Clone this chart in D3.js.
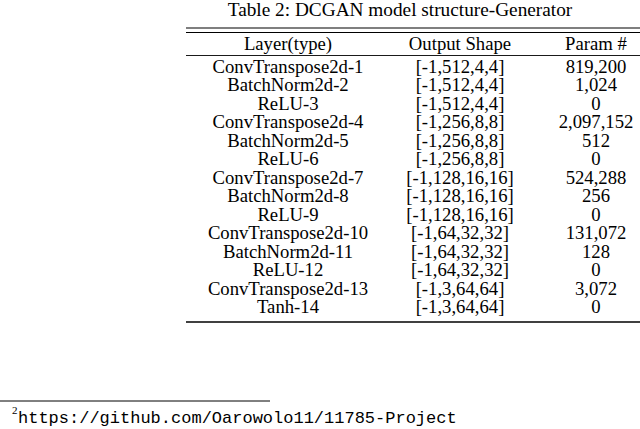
<!DOCTYPE html>
<html><head><meta charset="utf-8">
<script src="https://cdn.jsdelivr.net/npm/d3@7"></script>
<style>body{margin:0;background:#fff}</style>
</head><body>
<script>
const headers = ['Layer(type)', 'Output Shape', 'Param #']
const layers = ['ConvTranspose2d-1','BatchNorm2d-2','ReLU-3','ConvTranspose2d-4','BatchNorm2d-5','ReLU-6',
  'ConvTranspose2d-7','BatchNorm2d-8','ReLU-9','ConvTranspose2d-10','BatchNorm2d-11','ReLU-12',
  'ConvTranspose2d-13','Tanh-14']
const shapes = ['[-1,512,4,4]','[-1,512,4,4]','[-1,512,4,4]','[-1,256,8,8]','[-1,256,8,8]','[-1,256,8,8]',
  '[-1,128,16,16]','[-1,128,16,16]','[-1,128,16,16]','[-1,64,32,32]','[-1,64,32,32]','[-1,64,32,32]',
  '[-1,3,64,64]','[-1,3,64,64]']
const params = ['819,200','1,024','0','2,097,152','512','0','524,288','256','0','131,072','128','0','3,072','0']

const svg = d3.select('body').append('svg').attr('width', 640).attr('height', 429)
const serif = "'Liberation Serif', 'Times New Roman', serif"

svg.append('text').attr('x', 400).attr('y', 16).attr('text-anchor', 'middle')
  .attr('font-family', serif).attr('font-size', 19.3).text('Table 2: DCGAN model structure-Generator')

const colX = [288, 460, 596]
const y = d3.scaleLinear().domain([0, 13]).range([73, 313])

const line = (yy, w) => svg.append('line').attr('x1', 186).attr('x2', 640)
  .attr('y1', yy).attr('y2', yy).attr('stroke', '#000').attr('stroke-width', w)
line(28, 1.2); line(32.5, 1.2); line(55.5, 0.9); line(322, 1.4)

svg.selectAll('text.h').data(headers).join('text').attr('class', 'h')
  .attr('x', (d, i) => colX[i]).attr('y', 50).attr('text-anchor', 'middle')
  .attr('font-family', serif).attr('font-size', 18.7).text(d => d)

const cols = [layers, shapes, params]
cols.forEach((col, c) => {
  svg.selectAll('text.c' + c).data(col).join('text').attr('class', 'c' + c)
    .attr('x', colX[c]).attr('y', (d, i) => y(i)).attr('text-anchor', 'middle')
    .attr('font-family', serif).attr('font-size', 18.7).text(d => d)
})

svg.append('line').attr('x1', 0).attr('x2', 270).attr('y1', 401).attr('y2', 401)
  .attr('stroke', '#000').attr('stroke-width', 1)
svg.append('text').attr('x', 12).attr('y', 414).attr('font-family', serif).attr('font-size', 11).text('2')
svg.append('text').attr('x', 18).attr('y', 423).attr('font-family', "'Liberation Mono', 'DejaVu Sans Mono', monospace")
  .attr('font-size', 17).text('https://github.com/Oarowolo11/11785-Project')
</script>
</body></html>
